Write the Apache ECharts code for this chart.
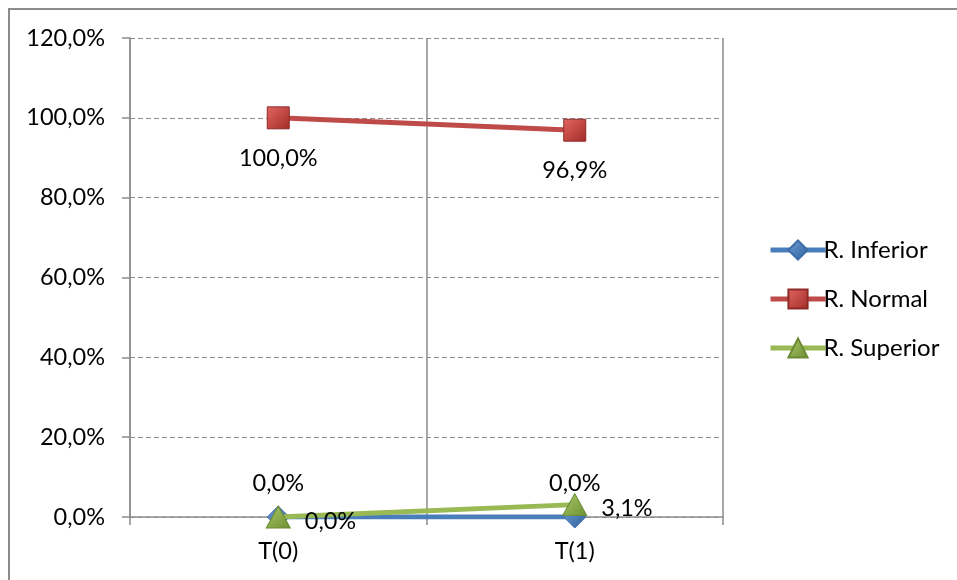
<!DOCTYPE html>
<html>
<head>
<meta charset="utf-8">
<script src="https://cdn.jsdelivr.net/npm/echarts@6/dist/echarts.min.js"></script>
<style>
  html, body { margin: 0; padding: 0; background: #fff; }
  #frame { position: absolute; left: 8px; top: 8px; width: 960px; height: 580px;
           border-left: 2px solid #8c8c8c; border-top: 2px solid #8c8c8c; box-sizing: border-box; }
  #chart { position: absolute; left: 0; top: 0; width: 957px; height: 580px; }
</style>
</head>
<body>
<div id="frame"></div>
<div id="chart"></div>
<script>
const categories = ['T(0)', 'T(1)'];
const inferior = [0.0, 0.0];
const normal = [100.0, 96.9];
const superior = [0.0, 3.1];
const yTicks = [0, 20, 40, 60, 80, 100, 120];

const FONT = 'Lato';
const SIZE = 23.5;
const fmt = v => v.toFixed(1).replace('.', ',') + '%';

function grad(light, dark) {
  return new echarts.graphic.LinearGradient(0, 0, 1, 1, [
    { offset: 0, color: light }, { offset: 1, color: dark }
  ]);
}

const chart = echarts.init(document.getElementById('chart'), null, { renderer: 'canvas' });
chart.setOption({
  animation: false,
  textStyle: { fontFamily: FONT },
  grid: { left: 130, right: 234, top: 38, bottom: 63, containLabel: false },
  legend: {
    orient: 'vertical', left: 763, top: 233,
    itemWidth: 55, itemHeight: 24, itemGap: 25,
    lineStyle: { width: 5 },
    textStyle: { fontFamily: FONT, fontSize: 24, color: '#000', padding: [0, 0, 0, -7] },
    data: ['R. Inferior', 'R. Normal', 'R. Superior']
  },
  xAxis: {
    type: 'category', data: categories, boundaryGap: true,
    axisLine: { lineStyle: { color: '#8c8c8c', width: 1.5 } },
    axisTick: { show: true, length: 8, lineStyle: { color: '#8c8c8c', width: 1.5 } },
    splitLine: { show: true, lineStyle: { color: '#8c8c8c', width: 1.5 } },
    axisLabel: { fontFamily: FONT, fontSize: SIZE, color: '#000', margin: 22 }
  },
  yAxis: {
    type: 'value', min: yTicks[0], max: yTicks[yTicks.length - 1], interval: 20,
    axisLine: { show: true, lineStyle: { color: '#8c8c8c', width: 1.5 } },
    axisTick: { show: true, length: 8, lineStyle: { color: '#8c8c8c', width: 1.5 } },
    splitLine: { show: true, lineStyle: { color: '#8c8c8c', width: 1.2, type: [5, 3] } },
    axisLabel: { fontFamily: FONT, fontSize: SIZE, color: '#000', margin: 25, formatter: v => fmt(v) }
  },
  series: [
    {
      name: 'R. Inferior', type: 'line', data: inferior,
      symbol: 'diamond', symbolSize: [22, 22],
      lineStyle: { color: '#4a7ebb', width: 5 },
      itemStyle: { color: grad('#6f9ed8', '#2f5f9a'), borderColor: '#3d6ca8', borderWidth: 1 },
      label: { show: true, position: 'top', distance: 10, fontFamily: FONT, fontSize: SIZE, color: '#000', formatter: p => fmt(p.value) },
      z: 2
    },
    {
      name: 'R. Normal', type: 'line', data: normal,
      symbol: 'rect', symbolSize: [22, 22],
      lineStyle: { color: '#be4b48', width: 5 },
      itemStyle: { color: grad('#e06662', '#a32b28'), borderColor: '#8e2a27', borderWidth: 1 },
      label: { show: true, position: 'bottom', distance: 17, fontFamily: FONT, fontSize: SIZE, color: '#000', formatter: p => fmt(p.value) },
      z: 3
    },
    {
      name: 'R. Superior', type: 'line', data: superior,
      symbol: 'triangle', symbolSize: [24, 22],
      lineStyle: { color: '#98b954', width: 5 },
      itemStyle: { color: grad('#a9c96a', '#6e8f31'), borderColor: '#6b8a33', borderWidth: 1 },
      label: { show: true, position: 'right', distance: 14, offset: [0, 4], fontFamily: FONT, fontSize: SIZE, color: '#000', formatter: p => fmt(p.value) },
      z: 4
    }
  ]
});
</script>
</body>
</html>
